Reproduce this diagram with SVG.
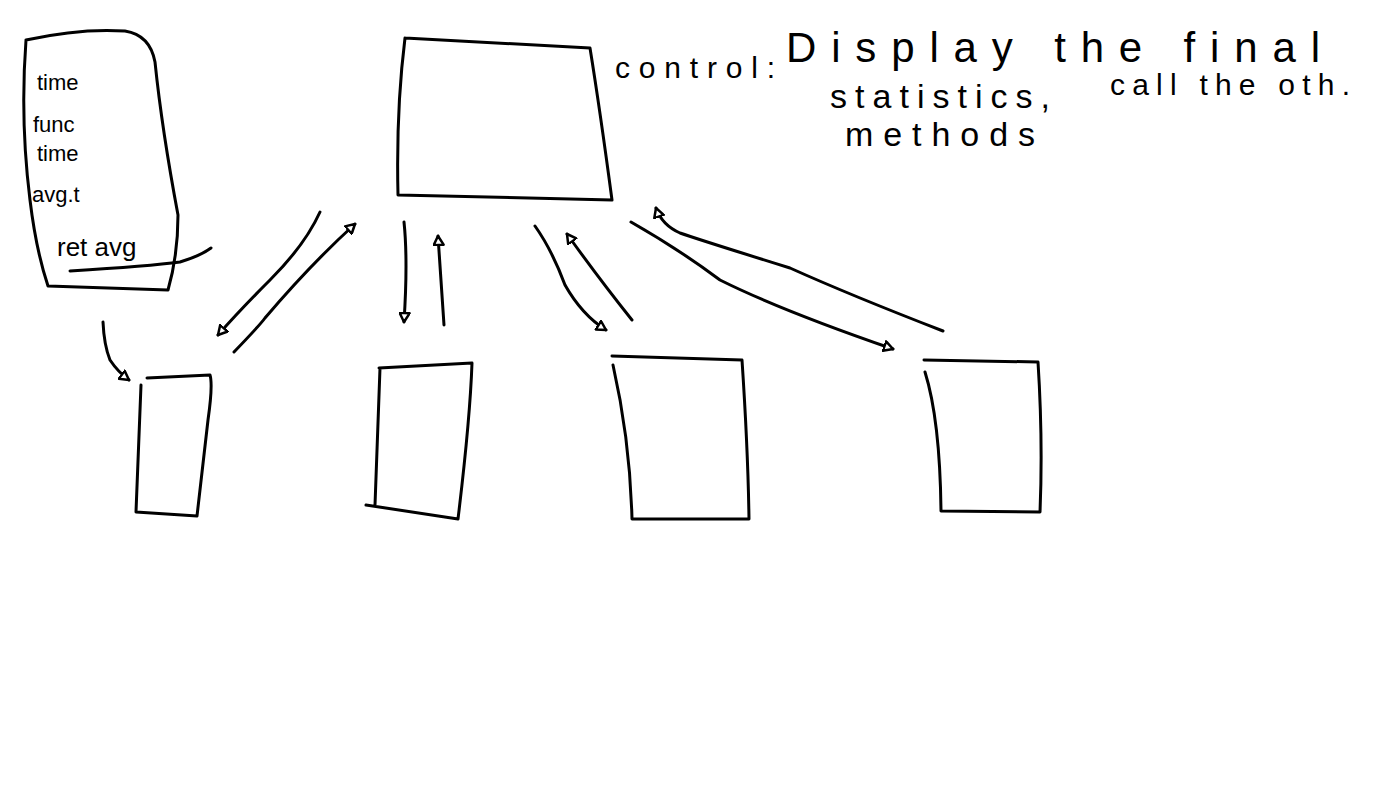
<svg xmlns="http://www.w3.org/2000/svg" width="1379" height="809" viewBox="0 0 1379 809">
<style>
.s{fill:none;stroke:#000;stroke-width:3;stroke-linecap:round;stroke-linejoin:round}
.t{font-family:"Liberation Sans","DejaVu Sans",sans-serif;fill:#000}
</style>
<defs>
<marker id="ah" viewBox="0 0 12 12" refX="10" refY="6" markerWidth="12" markerHeight="12" markerUnits="userSpaceOnUse" orient="auto">
<path d="M1,1 L10,6 L1,11 Z" fill="#fff" stroke="#000" stroke-width="2.5" stroke-linejoin="round"/>
</marker>
</defs>
<rect width="1379" height="809" fill="#fff"/>
<g id="note">
<path class="s" d="M26,40 Q80,28 125,31 Q150,35 155,62 Q162,130 178,215 Q178,255 168,290 L48,286 Q36,250 30,200 Q20,120 26,40"/>
<text class="t" x="37" y="90" font-size="22">time</text>
<text class="t" x="33" y="132" font-size="22">func</text>
<text class="t" x="37" y="161" font-size="22">time</text>
<text class="t" x="32" y="202" font-size="22">avg.t</text>
<text class="t" x="57" y="256" font-size="26">ret avg</text>
<path class="s" d="M70,271 Q150,266 180,262 Q200,256 211,248"/>
</g>
<g id="control">
<path class="s" d="M405,38 L590,48 Q600,110 612,200 L398,195 Q396,110 405,38"/>
</g>
<g id="label">
<text class="t" x="615" y="78" font-size="30" textLength="160" lengthAdjust="spacing">control:</text>
<text class="t" x="786" y="62" font-size="42" textLength="534" lengthAdjust="spacing">Display the final</text>
<text class="t" x="830" y="108" font-size="34" textLength="220" lengthAdjust="spacing">statistics,</text>
<text class="t" x="1110" y="95" font-size="30" textLength="240" lengthAdjust="spacing">call the oth.</text>
<text class="t" x="845" y="146" font-size="34" textLength="190" lengthAdjust="spacing">methods</text>
</g>
<g id="box1"><path class="s" d="M147,378 L210,375 Q213,385 208,420 L197,516 L136,512 L141,385"/></g>
<g id="box2"><path class="s" d="M379,368 L472,363 Q470,420 458,519 L366,505 M375,505 L380,368"/></g>
<g id="box3"><path class="s" d="M612,356 L742,360 Q748,450 749,519 L632,519 Q630,440 613,365"/></g>
<g id="box4"><path class="s" d="M924,360 L1038,362 Q1043,440 1040,512 L941,511 Q940,420 925,372"/></g>
<g id="connectors">
<path class="s" marker-end="url(#ah)" d="M320,212 Q305,245 270,280 Q240,310 218,335"/>
<path class="s" marker-end="url(#ah)" d="M234,352 Q260,325 265,318 Q310,265 355,224"/>
<path class="s" marker-end="url(#ah)" d="M404,222 Q408,260 404,322"/>
<path class="s" marker-end="url(#ah)" d="M444,325 L438,236"/>
<path class="s" marker-end="url(#ah)" d="M535,226 Q552,250 565,285 Q582,315 606,330"/>
<path class="s" marker-end="url(#ah)" d="M632,320 Q600,280 567,234"/>
<path class="s" marker-end="url(#ah)" d="M631,222 Q680,250 720,280 Q780,310 893,349"/>
<path class="s" marker-end="url(#ah)" d="M943,331 Q850,295 790,268 Q700,240 680,233 Q662,225 656,208"/>
<path class="s" marker-end="url(#ah)" d="M103,322 Q104,345 110,360 Q118,372 129,380"/>
</g>
</svg>
